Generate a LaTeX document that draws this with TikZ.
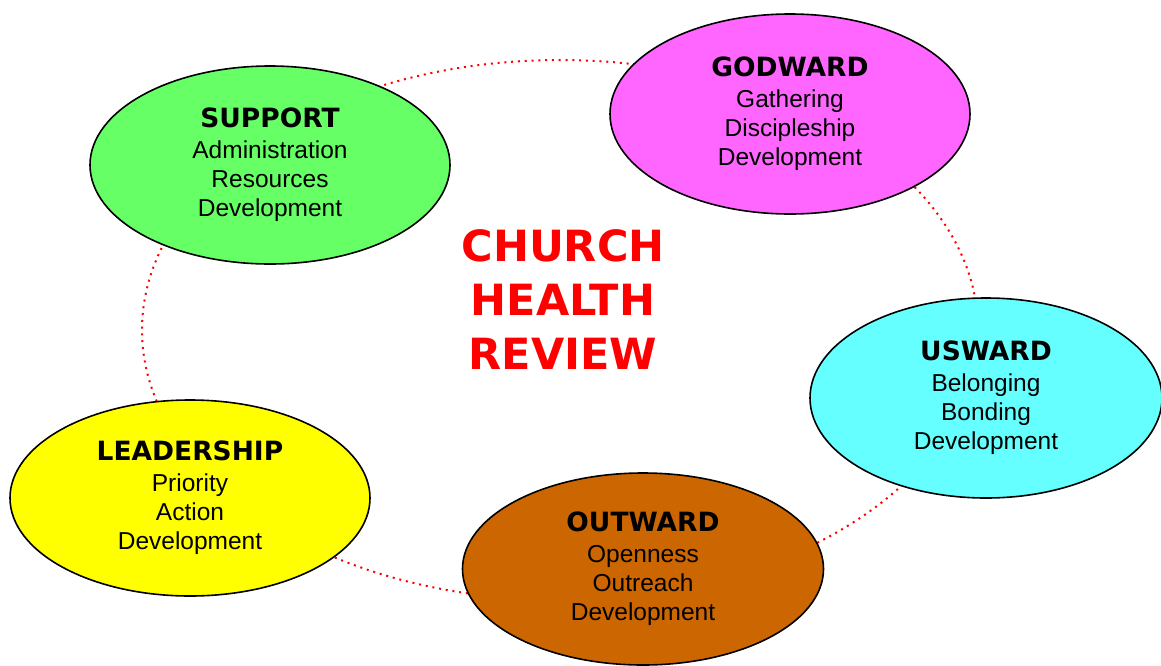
\documentclass[tikz,border=0pt]{standalone}
\usepackage{fontspec}
\setmainfont{Liberation Sans}
\newfontfamily\headfont{DejaVu Sans}[BoldFont={DejaVu Sans Bold}]
\usetikzlibrary{shapes.geometric}
\definecolor{cgreen}{RGB}{102,255,102}
\definecolor{cmagenta}{RGB}{255,102,255}
\definecolor{ccyan}{RGB}{102,255,255}
\definecolor{cyellow}{RGB}{255,255,0}
\definecolor{cbrown}{RGB}{204,102,0}
\definecolor{cred}{RGB}{255,0,0}
\newcommand{\blobtext}[4]{{\fontsize{26.5}{32}\headfont\bfseries #1}\\[2pt]{\fontsize{24.5}{29}\selectfont #2}\\{\fontsize{24.5}{29}\selectfont #3}\\{\fontsize{24.5}{29}\selectfont #4}}
\tikzset{
  blob/.style={ellipse, draw=black, line width=1.6pt, inner sep=0pt, align=center,
     minimum width=360pt, minimum height=198pt, font=\fontsize{24.5}{29}\selectfont},
  ring/.style={cred, line width=2pt, dash pattern=on 2pt off 4.8pt},
  bigtitle/.style={cred, align=center, font=\fontsize{43}{54}\headfont\bfseries}
}
\begin{document}
\begin{tikzpicture}[x=1pt,y=-1pt]
\useasboundingbox (0,0) rectangle (1161,665);
\fill[white] (0,0) rectangle (1161,665);
\coordinate (mid) at (560,330);
\draw[ring] (mid) ellipse [x radius=418, y radius=270];
\node[blob, fill=cgreen] (support) at (270,165) {\blobtext{SUPPORT}{Administration}{Resources}{Development}};
\node[blob, fill=cmagenta, minimum height=200pt] (godward) at (790,114) {\blobtext{GODWARD}{Gathering}{Discipleship}{Development}};
\node[blob, fill=ccyan, minimum width=352pt, minimum height=200pt] (usward) at (986,398) {\blobtext{USWARD}{Belonging}{Bonding}{Development}};
\node[blob, fill=cyellow, minimum height=196pt] (leadership) at (190,498) {\blobtext{LEADERSHIP}{Priority}{Action}{Development}};
\node[blob, fill=cbrown, minimum width=361pt, minimum height=192pt] (outward) at (643,569) {\blobtext{OUTWARD}{Openness}{Outreach}{Development}};
\node[bigtitle] (title) at (563,300) {CHURCH\\HEALTH\\REVIEW};
\end{tikzpicture}
\end{document}
